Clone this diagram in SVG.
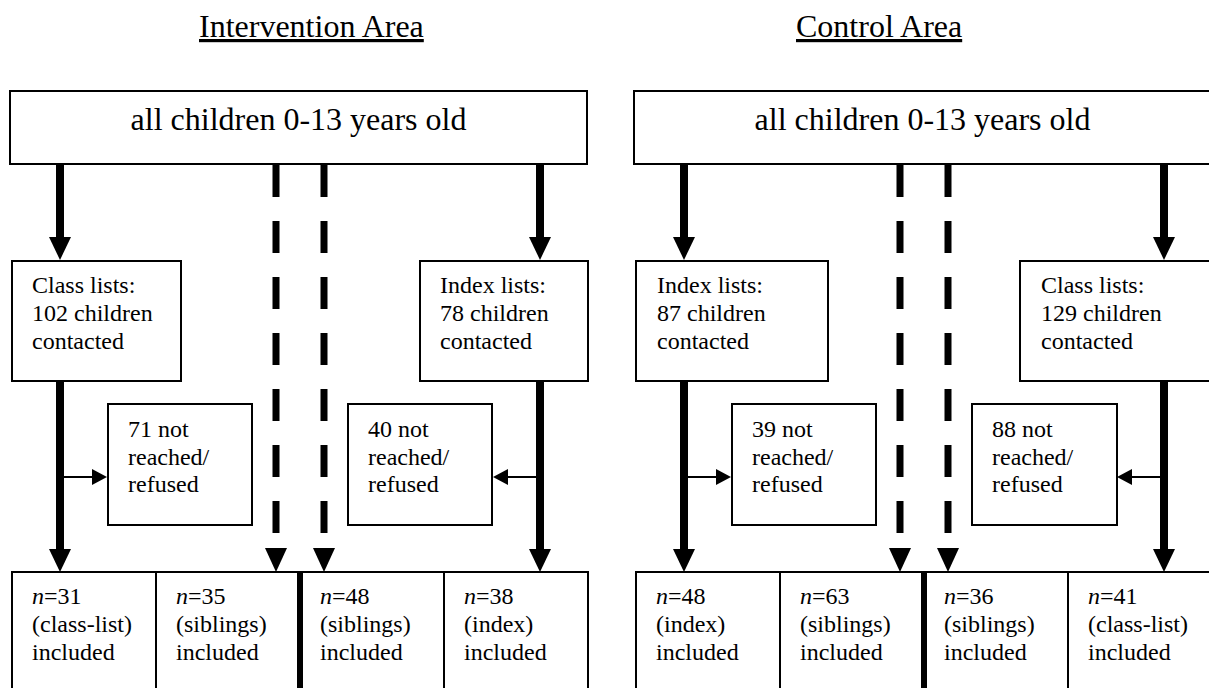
<svg xmlns="http://www.w3.org/2000/svg" width="1209" height="688" viewBox="0 0 1209 688">
<style>
  .ttl { font-family: 'Liberation Serif', serif; font-size: 32px; text-decoration: underline; fill: #000; }
  .hd { font-family: 'Liberation Serif', serif; font-size: 32px; fill: none; stroke: none; text-decoration: underline; }
  .lb { font-family: 'Liberation Serif', serif; font-size: 24px; fill: none; stroke: none; text-decoration: underline; }
  .k { fill: #000; }
  .box { fill: #fff; stroke: #000; stroke-width: 2; }
  .solid { stroke: #000; stroke-width: 8; fill: none; }
  .dash { stroke: #000; stroke-width: 7; fill: none; stroke-dasharray: 32 24; }
  .thin { stroke: #000; stroke-width: 2; fill: none; }
  .thick { stroke: #000; stroke-width: 6; fill: none; }
  .head { fill: #000; }
  .it { font-style: italic; }
</style>
<rect width="1209" height="688" fill="#fff"/>

<g id="titles">
  <text class="ttl" x="199" y="37">Intervention Area</text>
  <text class="ttl" x="796" y="37">Control Area</text>
</g>

<g id="connectors">
  <line class="solid" x1="60" y1="164" x2="60" y2="240"/>
  <polygon class="head" points="49,237 71,237 60,260"/>
  <line class="solid" x1="60" y1="381" x2="60" y2="552"/>
  <polygon class="head" points="49,549 71,549 60,572"/>
  <line class="thin" x1="60" y1="477" x2="94" y2="477"/>
  <polygon class="head" points="92,469 107,477 92,485"/>
  <line class="dash" x1="276" y1="165" x2="276" y2="533"/>
  <polygon class="head" points="265,548 287,548 276,572"/>
  <line class="dash" x1="324" y1="165" x2="324" y2="533"/>
  <polygon class="head" points="313,548 335,548 324,572"/>
  <line class="solid" x1="540" y1="164" x2="540" y2="240"/>
  <polygon class="head" points="529,237 551,237 540,260"/>
  <line class="solid" x1="540" y1="381" x2="540" y2="552"/>
  <polygon class="head" points="529,549 551,549 540,572"/>
  <line class="thin" x1="540" y1="477" x2="506" y2="477"/>
  <polygon class="head" points="508,469 493,477 508,485"/>
  <line class="solid" x1="684" y1="164" x2="684" y2="240"/>
  <polygon class="head" points="673,237 695,237 684,260"/>
  <line class="solid" x1="684" y1="381" x2="684" y2="552"/>
  <polygon class="head" points="673,549 695,549 684,572"/>
  <line class="thin" x1="684" y1="477" x2="718" y2="477"/>
  <polygon class="head" points="716,469 731,477 716,485"/>
  <line class="dash" x1="900" y1="165" x2="900" y2="533"/>
  <polygon class="head" points="889,548 911,548 900,572"/>
  <line class="dash" x1="948" y1="165" x2="948" y2="533"/>
  <polygon class="head" points="937,548 959,548 948,572"/>
  <line class="solid" x1="1164" y1="164" x2="1164" y2="240"/>
  <polygon class="head" points="1153,237 1175,237 1164,260"/>
  <line class="solid" x1="1164" y1="381" x2="1164" y2="552"/>
  <polygon class="head" points="1153,549 1175,549 1164,572"/>
  <line class="thin" x1="1164" y1="477" x2="1130" y2="477"/>
  <polygon class="head" points="1132,469 1117,477 1132,485"/>
</g>

<g id="int-all">
  <rect class="box" x="10" y="91" width="577" height="73"/>
  <text class="hd" x="298.5" y="130" text-anchor="middle"><tspan class="k">all children 0-13 years old</tspan></text>
</g>
<g id="int-class">
  <rect class="box" x="12" y="261" width="169" height="120"/>
  <text class="lb" x="32" y="293"><tspan class="k">Class lists:</tspan></text>
  <text class="lb" x="32" y="321"><tspan class="k">102 children</tspan></text>
  <text class="lb" x="32" y="349"><tspan class="k">contacted</tspan></text>
</g>
<g id="int-index">
  <rect class="box" x="420" y="261" width="168" height="120"/>
  <text class="lb" x="440" y="293"><tspan class="k">Index lists:</tspan></text>
  <text class="lb" x="440" y="321"><tspan class="k">78 children</tspan></text>
  <text class="lb" x="440" y="349"><tspan class="k">contacted</tspan></text>
</g>
<g id="int-notreached-class">
  <rect class="box" x="108" y="404" width="144" height="121"/>
  <text class="lb" x="128" y="437"><tspan class="k">71 not</tspan></text>
  <text class="lb" x="128" y="465"><tspan class="k">reached/</tspan></text>
  <text class="lb" x="128" y="492"><tspan class="k">refused</tspan></text>
</g>
<g id="int-notreached-index">
  <rect class="box" x="348" y="404" width="144" height="121"/>
  <text class="lb" x="368" y="437"><tspan class="k">40 not</tspan></text>
  <text class="lb" x="368" y="465"><tspan class="k">reached/</tspan></text>
  <text class="lb" x="368" y="492"><tspan class="k">refused</tspan></text>
</g>
<g id="int-n31">
  <rect class="box" x="12" y="572" width="144" height="130"/>
  <text class="lb" x="32" y="604"><tspan class="k"><tspan class="it">n</tspan>=31</tspan></text>
  <text class="lb" x="32" y="632"><tspan class="k">(class-list)</tspan></text>
  <text class="lb" x="32" y="660"><tspan class="k">included</tspan></text>
</g>
<g id="int-n35">
  <rect class="box" x="156" y="572" width="144" height="130"/>
  <text class="lb" x="176" y="604"><tspan class="k"><tspan class="it">n</tspan>=35</tspan></text>
  <text class="lb" x="176" y="632"><tspan class="k">(siblings)</tspan></text>
  <text class="lb" x="176" y="660"><tspan class="k">included</tspan></text>
</g>
<g id="int-n48">
  <rect class="box" x="300" y="572" width="144" height="130"/>
  <text class="lb" x="320" y="604"><tspan class="k"><tspan class="it">n</tspan>=48</tspan></text>
  <text class="lb" x="320" y="632"><tspan class="k">(siblings)</tspan></text>
  <text class="lb" x="320" y="660"><tspan class="k">included</tspan></text>
</g>
<g id="int-n38">
  <rect class="box" x="444" y="572" width="144" height="130"/>
  <text class="lb" x="464" y="604"><tspan class="k"><tspan class="it">n</tspan>=38</tspan></text>
  <text class="lb" x="464" y="632"><tspan class="k">(index)</tspan></text>
  <text class="lb" x="464" y="660"><tspan class="k">included</tspan></text>
</g>
<line class="thick" x1="300" y1="572" x2="300" y2="690"/>

<g id="ctl-all">
  <rect class="box" x="634" y="91" width="577" height="73"/>
  <text class="hd" x="922.5" y="130" text-anchor="middle"><tspan class="k">all children 0-13 years old</tspan></text>
</g>
<g id="ctl-index">
  <rect class="box" x="636" y="261" width="192" height="120"/>
  <text class="lb" x="657" y="293"><tspan class="k">Index lists:</tspan></text>
  <text class="lb" x="657" y="321"><tspan class="k">87 children</tspan></text>
  <text class="lb" x="657" y="349"><tspan class="k">contacted</tspan></text>
</g>
<g id="ctl-class">
  <rect class="box" x="1020" y="261" width="192" height="120"/>
  <text class="lb" x="1041" y="293"><tspan class="k">Class lists:</tspan></text>
  <text class="lb" x="1041" y="321"><tspan class="k">129 children</tspan></text>
  <text class="lb" x="1041" y="349"><tspan class="k">contacted</tspan></text>
</g>
<g id="ctl-notreached-index">
  <rect class="box" x="732" y="404" width="144" height="121"/>
  <text class="lb" x="752" y="437"><tspan class="k">39 not</tspan></text>
  <text class="lb" x="752" y="465"><tspan class="k">reached/</tspan></text>
  <text class="lb" x="752" y="492"><tspan class="k">refused</tspan></text>
</g>
<g id="ctl-notreached-class">
  <rect class="box" x="972" y="404" width="145" height="121"/>
  <text class="lb" x="992" y="437"><tspan class="k">88 not</tspan></text>
  <text class="lb" x="992" y="465"><tspan class="k">reached/</tspan></text>
  <text class="lb" x="992" y="492"><tspan class="k">refused</tspan></text>
</g>
<g id="ctl-n48">
  <rect class="box" x="636" y="572" width="144" height="130"/>
  <text class="lb" x="656" y="604"><tspan class="k"><tspan class="it">n</tspan>=48</tspan></text>
  <text class="lb" x="656" y="632"><tspan class="k">(index)</tspan></text>
  <text class="lb" x="656" y="660"><tspan class="k">included</tspan></text>
</g>
<g id="ctl-n63">
  <rect class="box" x="780" y="572" width="144" height="130"/>
  <text class="lb" x="800" y="604"><tspan class="k"><tspan class="it">n</tspan>=63</tspan></text>
  <text class="lb" x="800" y="632"><tspan class="k">(siblings)</tspan></text>
  <text class="lb" x="800" y="660"><tspan class="k">included</tspan></text>
</g>
<g id="ctl-n36">
  <rect class="box" x="924" y="572" width="144" height="130"/>
  <text class="lb" x="944" y="604"><tspan class="k"><tspan class="it">n</tspan>=36</tspan></text>
  <text class="lb" x="944" y="632"><tspan class="k">(siblings)</tspan></text>
  <text class="lb" x="944" y="660"><tspan class="k">included</tspan></text>
</g>
<g id="ctl-n41">
  <rect class="box" x="1068" y="572" width="144" height="130"/>
  <text class="lb" x="1088" y="604"><tspan class="k"><tspan class="it">n</tspan>=41</tspan></text>
  <text class="lb" x="1088" y="632"><tspan class="k">(class-list)</tspan></text>
  <text class="lb" x="1088" y="660"><tspan class="k">included</tspan></text>
</g>
<line class="thick" x1="924" y1="572" x2="924" y2="690"/>
</svg>
